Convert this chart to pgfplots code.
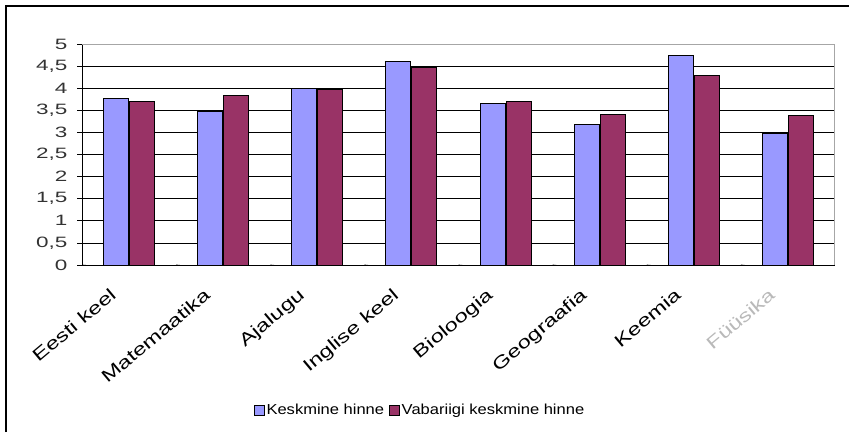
\documentclass[border=0pt]{standalone}
\usepackage{pgfplots}
\pgfplotsset{compat=1.18}
\usepackage{fontspec}
\setmainfont{Liberation Sans}
\newfontfamily\ylab[FakeStretch=1.5]{Liberation Sans}
\newfontfamily\xlab[FakeStretch=1.35]{Liberation Sans}
\newfontfamily\leglab[FakeStretch=1.14]{Liberation Sans}
\definecolor{cblue}{HTML}{9999FF}
\definecolor{cred}{HTML}{993366}
\begin{document}
\begin{tikzpicture}[x=1pt,y=1pt]
\useasboundingbox (0,0) rectangle (849,432);
\draw[black, line width=1.5pt] (6,0) -- (6,426) -- (849,426);
\begin{axis}[
  at={(82pt,167pt)}, anchor=south west, scale only axis,
  width=753pt, height=221pt,
  ybar=1pt, bar width=25pt,
  xmin=-0.5, xmax=7.5, ymin=0, ymax=5,
  axis x line*=bottom, axis y line*=left,
  axis line style={black, line width=1pt},
  ytick={0,0.5,1,1.5,2,2.5,3,3.5,4,4.5,5},
  ymajorgrids, major grid style={black, line width=0.8pt},
  tick align=outside, major tick length=5pt,
  tick style={black, line width=0.8pt},
  xtick={0,1,2,3,4,5,6,7},
  xtick style={draw=none},
  xticklabels={Eesti keel, Matemaatika, Ajalugu, Inglise keel, Bioloogia, Geograafia, Keemia, {\color{gray!55}Füüsika}},
  xticklabel style={xshift=-20pt, yshift=-17pt, rotate=40, anchor=north east, inner sep=0pt, font=\xlab\fontsize{17.5}{19}\selectfont},
  yticklabel style={font=\ylab\fontsize{15}{17}\selectfont, color=black!80, xshift=-6pt},
  /pgf/number format/assume math mode=true,
  /pgf/number format/use comma,
  legend style={at={(0.449,-0.656)}, anchor=center, draw=none, legend columns=2,
    font=\leglab\fontsize{14.5}{16}\selectfont, /tikz/every even column/.append style={column sep=3pt}},
]
\addplot[fill=cblue, draw=black, line width=0.9pt,
  legend image code/.code={\draw[fill=cblue, draw=black, line width=0.6pt] (0pt,-5pt) rectangle (10pt,5pt);}]
  coordinates {(0,3.76) (1,3.47) (2,4.00) (3,4.61) (4,3.66) (5,3.17) (6,4.75) (7,2.98)};
\addplot[fill=cred, draw=black, line width=0.9pt,
  legend image code/.code={\draw[fill=cred, draw=black, line width=0.6pt] (0pt,-5pt) rectangle (10pt,5pt);}]
  coordinates {(0,3.70) (1,3.83) (2,3.97) (3,4.47) (4,3.69) (5,3.41) (6,4.28) (7,3.38)};
\legend{Keskmine hinne, Vabariigi keskmine hinne}
\draw[gray!70, line width=1pt] (axis cs:-0.5,5) -- (axis cs:7.5,5) -- (axis cs:7.5,0);
\pgfplotsinvokeforeach{-0.5,0.5,1.5,2.5,3.5,4.5,5.5,6.5,7.5}{\draw[black, line width=0.8pt] (axis cs:#1,0) -- ++(0,-5pt);}
\end{axis}
\end{tikzpicture}
\end{document}
